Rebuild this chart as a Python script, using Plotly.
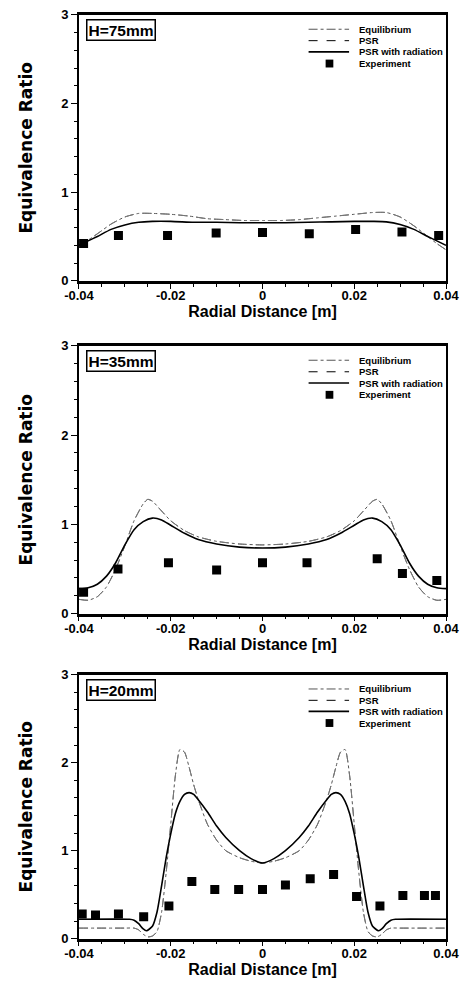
import plotly.graph_objects as go

# ---------------- data ----------------
# Panel H=75mm
x75_eq = [-0.04, -0.038, -0.036, -0.033, -0.03, -0.027, -0.024, -0.02, -0.016, -0.012, -0.008, -0.004, 0.0,
          0.004, 0.008, 0.012, 0.016, 0.02, 0.024, 0.027, 0.03, 0.033, 0.036, 0.038, 0.04]
y75_eq = [0.40, 0.46, 0.53, 0.64, 0.72, 0.76, 0.76, 0.75, 0.73, 0.70, 0.69, 0.68, 0.68,
          0.68, 0.69, 0.71, 0.73, 0.75, 0.77, 0.77, 0.72, 0.62, 0.50, 0.42, 0.35]
y75_psr = [0.40, 0.46, 0.53, 0.64, 0.72, 0.76, 0.76, 0.75, 0.73, 0.70, 0.69, 0.68, 0.68,
           0.68, 0.69, 0.71, 0.73, 0.75, 0.77, 0.77, 0.72, 0.62, 0.50, 0.42, 0.35]
x75_rad = [-0.04, -0.038, -0.036, -0.033, -0.03, -0.027, -0.024, -0.02, -0.015, -0.01, -0.005, 0.0,
           0.005, 0.01, 0.015, 0.02, 0.024, 0.027, 0.03, 0.033, 0.036, 0.038, 0.04]
y75_rad = [0.40, 0.45, 0.50, 0.58, 0.63, 0.66, 0.67, 0.67, 0.66, 0.66, 0.655, 0.655,
           0.655, 0.66, 0.665, 0.67, 0.67, 0.665, 0.635, 0.58, 0.50, 0.45, 0.40]
x75_exp = [-0.039, -0.0314, -0.0207, -0.0101, 0.0, 0.0102, 0.0203, 0.0304, 0.0384]
y75_exp = [0.42, 0.51, 0.51, 0.54, 0.545, 0.53, 0.58, 0.55, 0.51]

# Panel H=35mm
x35_eq = [-0.04, -0.038, -0.036, -0.034, -0.032, -0.03, -0.028, -0.026, -0.025, -0.024, -0.022, -0.02,
          -0.017, -0.014, -0.01, -0.005, 0.0, 0.005, 0.01, 0.014, 0.017, 0.02, 0.022, 0.024, 0.025,
          0.026, 0.028, 0.03, 0.032, 0.034, 0.036, 0.038, 0.04]
y35_eq = [0.16, 0.15, 0.19, 0.30, 0.50, 0.76, 1.04, 1.23, 1.28, 1.26, 1.15, 1.04,
          0.93, 0.86, 0.81, 0.78, 0.77, 0.78, 0.81, 0.86, 0.93, 1.04, 1.15, 1.26, 1.28,
          1.23, 1.04, 0.76, 0.50, 0.30, 0.19, 0.15, 0.16]
y35_psr = [0.16, 0.15, 0.19, 0.30, 0.50, 0.76, 1.04, 1.23, 1.28, 1.26, 1.15, 1.04,
           0.93, 0.86, 0.81, 0.78, 0.77, 0.78, 0.81, 0.86, 0.93, 1.04, 1.15, 1.26, 1.28,
           1.23, 1.04, 0.76, 0.50, 0.30, 0.19, 0.15, 0.16]
x35_rad = [-0.04, -0.038, -0.036, -0.034, -0.032, -0.03, -0.028, -0.026, -0.024, -0.022, -0.02,
           -0.017, -0.014, -0.01, -0.005, 0.0, 0.005, 0.01, 0.014, 0.017, 0.02, 0.022, 0.024,
           0.026, 0.028, 0.03, 0.032, 0.034, 0.036, 0.038, 0.04]
y35_rad = [0.28, 0.29, 0.33, 0.42, 0.57, 0.77, 0.94, 1.03, 1.07, 1.05, 0.99,
           0.90, 0.83, 0.78, 0.745, 0.735, 0.745, 0.78, 0.83, 0.90, 0.99, 1.05, 1.07,
           1.03, 0.94, 0.77, 0.57, 0.42, 0.33, 0.29, 0.28]
x35_exp = [-0.039, -0.0315, -0.0205, -0.01, 0.0, 0.0097, 0.025, 0.0305, 0.038]
y35_exp = [0.24, 0.50, 0.57, 0.49, 0.57, 0.57, 0.615, 0.45, 0.37]

# Panel H=20mm
x20_eq = [-0.04, -0.03, -0.028, -0.027, -0.026, -0.025, -0.024, -0.023, -0.022, -0.021, -0.02, -0.019,
          -0.018, -0.017, -0.016, -0.015, -0.014, -0.012, -0.01, -0.008, -0.005, -0.0025, 0.0,
          0.0025, 0.005, 0.008, 0.01, 0.012, 0.014, 0.015, 0.016, 0.017, 0.018, 0.019, 0.02,
          0.021, 0.022, 0.023, 0.024, 0.025, 0.026, 0.027, 0.028, 0.03, 0.04]
y20_eq = [0.12, 0.12, 0.12, 0.10, 0.05, 0.02, 0.03, 0.08, 0.30, 0.75, 1.30, 1.85,
          2.15, 2.12, 1.95, 1.75, 1.58, 1.30, 1.12, 1.00, 0.92, 0.88, 0.86,
          0.88, 0.92, 1.00, 1.12, 1.30, 1.58, 1.75, 1.95, 2.12, 2.15, 1.85, 1.30,
          0.75, 0.30, 0.08, 0.03, 0.02, 0.05, 0.10, 0.12, 0.12, 0.12]
y20_psr = [0.12, 0.12, 0.12, 0.10, 0.05, 0.02, 0.03, 0.08, 0.30, 0.75, 1.30, 1.85,
           2.15, 2.12, 1.95, 1.75, 1.58, 1.30, 1.12, 1.00, 0.92, 0.88, 0.86,
           0.88, 0.92, 1.00, 1.12, 1.30, 1.58, 1.75, 1.95, 2.12, 2.15, 1.85, 1.30,
           0.75, 0.30, 0.08, 0.03, 0.02, 0.05, 0.10, 0.12, 0.12, 0.12]
x20_rad = [-0.04, -0.029, -0.028, -0.027, -0.026, -0.0253, -0.024, -0.023, -0.022, -0.021, -0.02,
           -0.019, -0.018, -0.017, -0.016, -0.015, -0.014, -0.012, -0.01, -0.008, -0.005, -0.0025, 0.0,
           0.0025, 0.005, 0.008, 0.01, 0.012, 0.014, 0.015, 0.016, 0.017, 0.018, 0.019, 0.02,
           0.021, 0.022, 0.023, 0.024, 0.0253, 0.026, 0.027, 0.028, 0.029, 0.04]
y20_rad = [0.22, 0.22, 0.21, 0.17, 0.11, 0.09, 0.14, 0.30, 0.60, 0.92, 1.19,
           1.42, 1.56, 1.64, 1.66, 1.64, 1.58, 1.44, 1.28, 1.15, 1.00, 0.91, 0.86,
           0.91, 1.00, 1.15, 1.28, 1.44, 1.58, 1.64, 1.66, 1.64, 1.56, 1.42, 1.19,
           0.92, 0.60, 0.30, 0.14, 0.09, 0.11, 0.17, 0.21, 0.22, 0.22]
x20_exp = [-0.0393, -0.0364, -0.0314, -0.0259, -0.0204, -0.0154, -0.0104, -0.0052, 0.0, 0.005,
           0.0104, 0.0155, 0.0205, 0.0256, 0.0306, 0.0353, 0.0377]
y20_exp = [0.28, 0.27, 0.28, 0.25, 0.37, 0.65, 0.56, 0.56, 0.56, 0.61,
           0.68, 0.73, 0.48, 0.37, 0.49, 0.49, 0.49]

panel_labels = ["H=75mm", "H=35mm", "H=20mm"]
legend_names = ["Equilibrium", "PSR", "PSR with radiation", "Experiment"]
x_ticks = [-0.04, -0.02, 0.0, 0.02, 0.04]
x_ticktext = ["-0.04", "-0.02", "0", "0.02", "0.04"]
y_ticks = [0, 1, 2, 3]

panels = [
    (x75_eq, y75_eq, y75_psr, x75_rad, y75_rad, x75_exp, y75_exp),
    (x35_eq, y35_eq, y35_psr, x35_rad, y35_rad, x35_exp, y35_exp),
    (x20_eq, y20_eq, y20_psr, x20_rad, y20_rad, x20_exp, y20_exp),
]

# ---------------- layout geometry ----------------
W, H = 475, 989
x_dom = [68 / W, 458 / W]
y_px = [(8, 278), (344, 616), (678, 946)]
FONT = "Liberation Sans, Arial, sans-serif"

fig = go.Figure()
annotations = []
shapes = []

for i, (xe, ye, yp, xr, yr, xx, yx) in enumerate(panels):
    n = "" if i == 0 else str(i + 1)
    xa, ya = "x" + n, "y" + n
    fig.add_trace(go.Scatter(x=xe, y=ye, mode="lines", name=legend_names[0], showlegend=False,
                             line=dict(color="#555555", width=1, dash="dashdot", shape="spline", smoothing=0.6),
                             xaxis=xa, yaxis=ya))
    fig.add_trace(go.Scatter(x=xe, y=yp, mode="lines", name=legend_names[1], showlegend=False,
                             line=dict(color="#777777", width=1, dash="dash", shape="spline", smoothing=0.6),
                             xaxis=xa, yaxis=ya))
    fig.add_trace(go.Scatter(x=xr, y=yr, mode="lines", name=legend_names[2], showlegend=False,
                             line=dict(color="black", width=1.6, shape="spline", smoothing=0.6),
                             xaxis=xa, yaxis=ya))
    fig.add_trace(go.Scatter(x=xx, y=yx, mode="markers", name=legend_names[3], showlegend=False,
                             marker=dict(symbol="square", size=9, color="black"),
                             xaxis=xa, yaxis=ya))

    top, bot = y_px[i]
    dom = [1 - bot / H, 1 - top / H]
    axfont = dict(family=FONT, size=13, color="black", weight="bold")
    fig.layout["xaxis" + n] = dict(
        domain=x_dom, range=[-0.04, 0.04], anchor=ya,
        tickvals=x_ticks, ticktext=x_ticktext, tickfont=axfont,
        ticks="outside", ticklen=5, tickwidth=1, tickcolor="black",
        ticklabelstandoff=-4,
        minor=dict(dtick=0.005, ticks="outside", ticklen=3, tickcolor="black", showgrid=False),
        showline=True, linecolor="black", linewidth=2.5, mirror=True,
        showgrid=False, zeroline=False,
        title=dict(text="Radial Distance [m]",
                   font=dict(family=FONT, size=16, color="black", weight="bold"), standoff=4),
    )
    fig.layout["yaxis" + n] = dict(
        domain=dom, range=[0, 3], anchor=xa,
        tickvals=y_ticks, tickfont=axfont,
        ticks="outside", ticklen=6, tickwidth=1, tickcolor="black",
        minor=dict(dtick=0.2, ticks="outside", ticklen=3, tickcolor="black", showgrid=False),
        showline=True, linecolor="black", linewidth=2, mirror=True,
        showgrid=False, zeroline=False,
        title=dict(text="Equivalence Ratio",
                   font=dict(family="DejaVu Sans", size=17, color="black", weight="bold"), standoff=24),
    )

    xd, yd = "x" + n + " domain", "y" + n + " domain"
    # panel label box
    annotations.append(dict(text=panel_labels[i], x=0.02, y=0.985, xref=xd, yref=yd,
                            xanchor="left", yanchor="top", showarrow=False,
                            font=dict(family=FONT, size=15.5, color="black", weight="bold"),
                            bordercolor="black", borderwidth=1.5, borderpad=1, bgcolor="white"))
    # manual legend
    rows = [0.946, 0.903, 0.861, 0.817]
    lx0, lx1, tx = 0.6256, 0.7359, 0.7564
    styles = [dict(color="#555555", width=1, dash="dashdot"),
              dict(color="black", width=1, dash="dash"),
              dict(color="black", width=1.6)]
    for k in range(3):
        shapes.append(dict(type="line", xref=xd, yref=yd, x0=lx0, x1=lx1, y0=rows[k], y1=rows[k],
                           line=styles[k]))
    ph = 8 / (bot - top)
    shapes.append(dict(type="rect", xref=xd, yref=yd, x0=0.672, x1=0.693, y0=rows[3] - ph / 2,
                       y1=rows[3] + ph / 2, fillcolor="black", line=dict(width=0)))
    for k in range(4):
        annotations.append(dict(text=legend_names[k], x=tx, y=rows[k], xref=xd, yref=yd,
                                xanchor="left", yanchor="middle", showarrow=False,
                                font=dict(family=FONT, size=9.5, color="black", weight="bold")))

fig.update_layout(
    width=W, height=H,
    margin=dict(l=0, r=0, t=0, b=0),
    paper_bgcolor="white", plot_bgcolor="white",
    showlegend=False,
    annotations=annotations, shapes=shapes,
    font=dict(family=FONT, color="black"),
)

fig.write_html("out.html")
